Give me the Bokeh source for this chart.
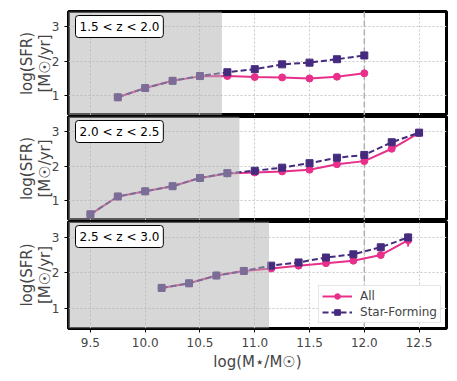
from bokeh.plotting import figure
from bokeh.layouts import column
from bokeh.models import BoxAnnotation, Span, Label, FixedTicker, Legend, LegendItem, ColumnDataSource
from bokeh.embed import file_html
from bokeh.resources import INLINE

# ---------------- data ----------------
z_labels = ["1.5 < z < 2.0", "2.0 < z < 2.5", "2.5 < z < 3.0"]
shade_limits = [10.70, 10.86, 11.13]

mass1 = [9.75, 10.0, 10.25, 10.5, 10.75, 11.0, 11.25, 11.5, 11.75, 12.0]
all1 = [0.95, 1.22, 1.43, 1.56, 1.57, 1.54, 1.53, 1.50, 1.55, 1.65]
sf1 = [0.95, 1.22, 1.43, 1.57, 1.68, 1.77, 1.91, 1.96, 2.06, 2.17]
all1_err = [0.03, 0.02, 0.02, 0.02, 0.02, 0.02, 0.02, 0.02, 0.03, 0.04]
sf1_err = [0.03, 0.02, 0.02, 0.02, 0.02, 0.02, 0.02, 0.02, 0.03, 0.05]

mass2 = [9.5, 9.75, 10.0, 10.25, 10.5, 10.75, 11.0, 11.25, 11.5, 11.75, 12.0, 12.25, 12.5]
all2 = [0.60, 1.12, 1.27, 1.42, 1.66, 1.79, 1.82, 1.85, 1.90, 2.06, 2.15, 2.51, 2.97]
sf2 = [0.60, 1.12, 1.27, 1.42, 1.66, 1.80, 1.87, 1.96, 2.09, 2.25, 2.33, 2.70, 2.98]
all2_err = [0.05, 0.03, 0.02, 0.02, 0.02, 0.02, 0.02, 0.02, 0.02, 0.02, 0.03, 0.04, 0.08]
sf2_err = [0.05, 0.03, 0.02, 0.02, 0.02, 0.02, 0.02, 0.02, 0.02, 0.02, 0.03, 0.04, 0.07]

mass3 = [10.15, 10.4, 10.65, 10.9, 11.15, 11.4, 11.65, 11.9, 12.15, 12.4]
all3 = [1.57, 1.70, 1.92, 2.05, 2.12, 2.20, 2.27, 2.34, 2.50, 2.92]
sf3 = [1.57, 1.70, 1.92, 2.05, 2.20, 2.29, 2.43, 2.52, 2.72, 3.00]
all3_err = [0.02, 0.02, 0.02, 0.02, 0.02, 0.02, 0.02, 0.03, 0.04, 0.18]
sf3_err = [0.02, 0.02, 0.02, 0.02, 0.02, 0.02, 0.02, 0.03, 0.04, 0.10]

x_ticks = [9.5, 10.0, 10.5, 11.0, 11.5, 12.0, 12.5]
x_tick_labels = {9.5: "9.5", 10.0: "10.0", 10.5: "10.5", 11.0: "11.0", 11.5: "11.5", 12.0: "12.0", 12.5: "12.5"}
y_ticks = [1, 2, 3]

panels = [
    (mass1, all1, all1_err, sf1, sf1_err),
    (mass2, all2, all2_err, sf2, sf2_err),
    (mass3, all3, all3_err, sf3, sf3_err),
]

PINK = "#e8308a"
PURPLE = "#452b7e"
FONT = "DejaVu Sans"

figs = []
for i, (m, a, ae, s, se) in enumerate(panels):
    last = (i == 2)
    fh = 104 if i < 2 else 107
    p = figure(output_backend="svg", toolbar_location=None,
               frame_width=378, frame_height=fh,
               x_range=(9.3, 12.75), y_range=(0.42, 3.45),
               min_border_left=68, min_border_right=3,
               min_border_top=11 if i == 0 else 1,
               min_border_bottom=0 if not last else 4)
    p.outline_line_color = "black"
    p.outline_line_width = 3
    p.background_fill_color = "white"
    p.border_fill_color = "white"

    # grids
    p.xgrid.ticker = FixedTicker(ticks=x_ticks)
    p.ygrid.ticker = FixedTicker(ticks=y_ticks)
    for g in (p.xgrid, p.ygrid):
        g.grid_line_color = "#c8c8c8"
        g.grid_line_dash = "2 2"
        g.grid_line_width = 1

    # axes
    p.yaxis.ticker = FixedTicker(ticks=y_ticks)
    p.yaxis.axis_label = "log(SFR)\n[M\u2609/yr]"
    p.yaxis.axis_label_text_font = FONT
    p.yaxis.axis_label_text_font_size = "15px"
    p.yaxis.axis_label_text_font_style = "normal"
    p.yaxis.axis_label_text_line_height = 1.0
    p.yaxis.axis_label_standoff = -5
    p.yaxis.major_label_text_font = FONT
    p.yaxis.major_label_text_font_size = "12px"
    p.yaxis.axis_line_color = None
    p.yaxis.minor_tick_line_color = None
    p.yaxis.major_tick_out = 4
    p.yaxis.major_tick_in = 0

    p.xaxis.ticker = FixedTicker(ticks=x_ticks)
    p.xaxis.major_label_overrides = x_tick_labels
    p.xaxis.axis_line_color = None
    p.xaxis.minor_tick_line_color = None
    p.xaxis.major_tick_out = 4
    p.xaxis.major_tick_in = 0
    if last:
        p.xaxis.axis_label = "log(M\u22c6/M\u2609)"
        p.xaxis.axis_label_text_font = FONT
        p.xaxis.axis_label_text_font_size = "15px"
        p.xaxis.axis_label_text_font_style = "normal"
        p.xaxis.axis_label_standoff = 3
        p.xaxis.major_label_text_font = FONT
        p.xaxis.major_label_text_font_size = "12px"
    else:
        p.xaxis.visible = False

    # vertical dashed line at 12
    p.add_layout(Span(location=12.0, dimension="height", line_color="#b0b0b0",
                      line_dash="6 3", line_width=1.5, level="underlay"))

    src_a = ColumnDataSource(dict(x=m, y=a, lo=[v - e for v, e in zip(a, ae)], hi=[v + e for v, e in zip(a, ae)]))
    src_s = ColumnDataSource(dict(x=m, y=s, lo=[v - e for v, e in zip(s, se)], hi=[v + e for v, e in zip(s, se)]))

    la = p.line("x", "y", source=src_a, line_color=PINK, line_width=2)
    ea = p.segment(x0="x", y0="lo", x1="x", y1="hi", source=src_a, line_color=PINK, line_width=2)
    ma = p.scatter("x", "y", source=src_a, marker="circle", size=7, fill_color=PINK, line_color=PINK)

    ls = p.line("x", "y", source=src_s, line_color=PURPLE, line_width=2, line_dash="6 3")
    es = p.segment(x0="x", y0="lo", x1="x", y1="hi", source=src_s, line_color=PURPLE, line_width=2)
    ms = p.scatter("x", "y", source=src_s, marker="square", size=7, fill_color=PURPLE, line_color=PURPLE)

    # shaded incompleteness region (above the data, below the text box)
    p.add_layout(BoxAnnotation(left=9.0, right=shade_limits[i], fill_color="#b0b0b0",
                               fill_alpha=0.5, line_color=None, level="glyph"))

    p.add_layout(Label(x=7, y=fh - 4, x_units="screen", y_units="screen",
                       text=z_labels[i], anchor="top_left",
                       text_font=FONT, text_font_size="12px", text_color="black",
                       background_fill_color="white", border_line_color="black",
                       border_line_width=1, padding=4, border_radius=3,
                       level="overlay"))

    if last:
        legend = Legend(items=[LegendItem(label="All", renderers=[la, ma]),
                               LegendItem(label="Star-Forming", renderers=[ls, ms])],
                        location="bottom_right")
        legend.label_text_font = FONT
        legend.label_text_font_size = "12px"
        legend.border_line_color = "#cccccc"
        legend.border_line_width = 1
        legend.background_fill_alpha = 0.9
        legend.glyph_width = 30
        legend.glyph_height = 14
        legend.label_height = 14
        legend.spacing = 2
        legend.padding = 3
        legend.margin = 5
        legend.label_standoff = 8
        p.add_layout(legend)

    figs.append(p)

layout = column(*figs, spacing=0)
open("out.html", "w").write(file_html(layout, INLINE))
